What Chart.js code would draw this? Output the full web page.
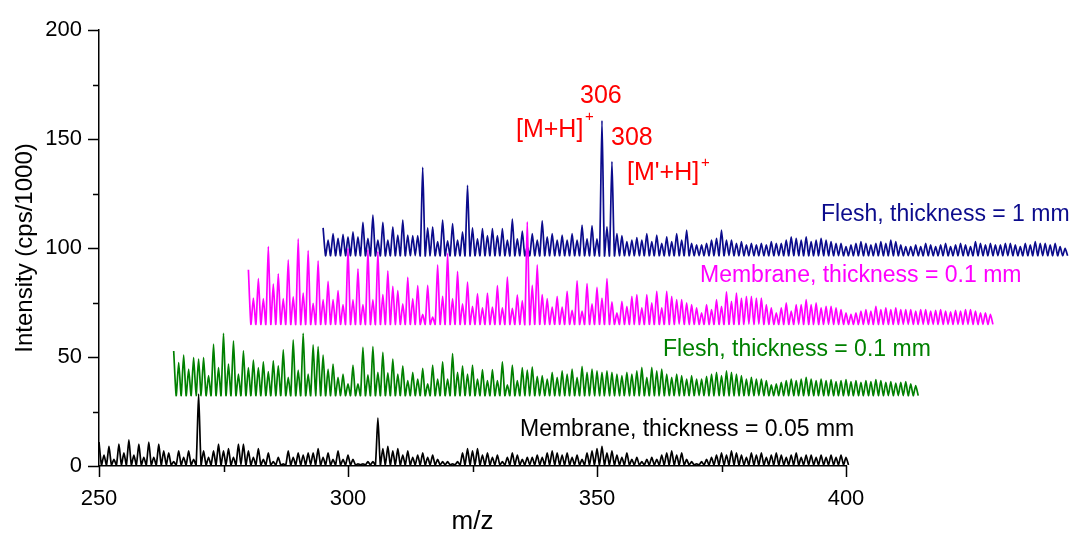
<!DOCTYPE html>
<html>
<head>
<meta charset="utf-8">
<script src="https://cdn.jsdelivr.net/npm/chart.js@4.4.1/dist/chart.umd.min.js"></script>
<style>
  html, body { margin: 0; padding: 0; background: #fff; }
  canvas { display: block; }
</style>
</head>
<body>
<canvas id="ms" width="1073" height="540"></canvas>
<script>
// Mass spectra, one trace per sample, offset in m/z and intensity like the original figure.
// Each array holds the peak height (cps/1000) at consecutive integer m/z from the start value.
const FONT = "'Liberation Sans', Arial, sans-serif";

const xTicks = [250, 300, 350, 400];
const yTicks = [0, 50, 100, 150, 200];

// Membrane, thickness = 0.05 mm (m/z 250..400)
const blackStart = 250;
const blackBase = 0.5;
const blackPeaks = [
  11, 5, 9, 3, 10, 6, 12, 5, 10, 4, 11, 4, 10, 7, 6, 2, 7, 4, 7, 3, 33,
  7, 4, 7, 10, 7, 8, 4, 10, 10, 7, 4, 8, 3, 6, 2, 4, 1, 7, 4, 6, 5, 6, 6, 8, 4, 6, 3, 7, 3, 5, 3, 1, 1, 2, 2,
  22,
  8, 9, 7, 8, 5, 7, 4, 5, 6, 4,
  5, 3, 2, 2, 1, 2, 6, 8, 7, 8,
  5, 6, 4, 5, 2, 4, 6, 5, 3, 4,
  4, 5, 4, 6, 7, 6, 5, 6, 4, 5,
  3, 6, 7, 8, 9, 6, 7, 5, 4, 6,
  3, 4, 2, 3, 4, 3, 5, 6, 7, 5,
  6, 3, 2, 1, 2, 3, 4, 5, 6, 5,
  7, 6, 5, 4, 6, 5, 6, 4, 5, 6,
  5, 4, 5, 6, 4, 5, 5, 4, 5, 4,
  5, 4, 5, 4
];

// Flesh, thickness = 0.1 mm (drawn from m/z 265)
const greenStart = 265;
const greenBase = 32.3;
const greenPeaks = [
  52.8, 47.5, 50.9, 44.5, 49.8, 49.1, 49.8, 41.5, 55.9, 45.2, 60.9, 46.8, 57.4, 42.2, 52.8, 45.2,
  48.6, 45.2, 47.8, 43.3, 48.3, 46, 53.3, 40.7, 57.9, 44, 60.9, 42.2, 55.6, 54.8, 50.9, 44.5,
  46.8, 40.7, 42.2, 37.7, 46.3, 37.7, 54.4, 41.8, 54.8, 43, 52.1, 42.7,
  49.1, 42.2, 46, 39.2, 43, 39.9, 44.8, 37.7, 46.3, 39.9, 47.8, 39.9, 51.6, 43, 46, 42.2,
  46.3, 39.9, 44.2, 39.2, 44.2, 39.2, 47.8, 37.2, 46.3, 39.2, 45.2, 44, 45.5, 41.2,
  41.5, 39.9, 43, 40.7, 43.7, 42.2, 44.5, 40.7, 45.7, 43, 44.5, 43.7, 43, 43.7, 43, 42.2,
  41.5, 43, 42.2, 43.7, 45.3, 40.7, 45.3, 43.7, 44.5, 42.2, 40.7, 42.2, 41.5, 39.9, 41.5, 39.9,
  39.9, 41.2, 42.2, 43, 41.5, 43.7, 43, 42.2, 41.5, 39.9, 40.7, 39.9, 39.9, 39.2, 37.2, 37.7,
  38.4, 39.2, 39.9, 39.2, 39.9, 40.7, 39.9, 39.2, 39.9, 39.2, 39.6, 38.7, 39.2, 39.6, 38.7, 39.2,
  38.4, 39.2, 38.7, 39.6, 39.2, 38.4, 38.7, 38.1, 38.4, 38.7, 37.7, 36.9
];

// Membrane, thickness = 0.1 mm (drawn from m/z 280)
const magentaStart = 280;
const magentaBase = 65;
const magentaPeaks = [
  90.1, 77.1, 86, 76.8, 100.7, 83.5, 88.2, 76.8, 94.6, 77.6, 104.2, 79.4, 98.9, 74.6, 94.2, 76.4,
  84.7, 76.4, 80.5, 74.1, 99.9, 76.4, 90.5, 74.1, 99.2, 76.4, 98.4, 78.7, 89.6, 82.5, 80.5, 74.4,
  86.6, 76.8, 82.8, 69.6, 82.9, 68.3, 92.3, 77.9, 97.6, 76.8, 89.3, 74.4, 84.4, 73.3, 79.1, 72.6,
  79.4, 72.9, 82.8, 72.6, 86.7, 72.3, 78.5, 75.9, 112.1, 82.9, 92.3, 78.7, 76.8, 72.9, 77.9, 72.9,
  80.2, 71.4, 85, 71.1, 83.7, 74.4, 82, 77.1, 86, 75.3, 70.3,
  75.6, 73.3, 77.9, 78.7, 72.6, 78.7, 74.9, 80.2, 72.6, 80.2, 77.9, 76.4, 76.4, 74.9, 74.1, 72.6,
  70.3, 74.1, 71.8, 76.4, 73.3, 79.9, 75.6, 79.4, 77.1, 77.9, 77.9, 77.1, 77.1, 74.1, 72.6, 70.3,
  72.6, 74.9, 71.1, 74.1, 74.1, 76.4, 74.1, 74.9, 72.6, 73.3, 73.3, 72.6, 71.8, 70.3, 69.6, 70.3,
  71.1, 71.8, 71.1, 73.3, 71.8, 72.6, 71.8, 72.6, 71.8, 71.8, 71.8, 71.1, 71.8, 71.8, 71.1, 71.4,
  71.8, 71.1, 70.8, 71.4, 71.1, 71.8, 71.8, 71.1, 70.3, 70.3, 69.6
];

// Flesh, thickness = 1 mm (drawn from m/z 295)
const blueStart = 295;
const blueBase = 96.5;
const bluePeaks = [
  109.3, 103.7, 106.7, 104.5, 106.3, 105.2, 107.5, 105.2, 111.8, 104.5, 115.1, 103.7, 111.8, 103.7, 109.8, 106,
  112.8, 106, 105.7, 105.7, 137.1, 109.3, 109.8, 103, 112.8, 103.3, 111.3, 103.7, 107.5, 128.8, 109.3, 104.2,
  109, 105.7, 109, 105.7, 109, 103.7, 113.3, 104.2, 107.8, 100.7, 106.7, 103.7, 112.5, 105.2, 106.7, 103.7,
  106, 103.7, 106.7, 103.7, 110.6, 104.2, 110.3, 104.2, 158.5, 109.8, 139.7, 106.7, 105.7, 103, 103.7, 104.8,
  103.7, 106.7, 103, 106, 102.2, 105.2, 103, 106.7, 103.7, 108.3, 102.2, 101.5, 101.5, 102.2, 103.7, 104.5,
  108.3, 103.7, 103.7, 102.2, 103, 101.5, 102.2, 101.5, 102.2, 101.5, 103, 102.2, 102.2, 103.7, 105.2, 104.5,
  103.7, 105.2, 103, 103.7, 104.5, 103.7, 103, 102.2, 102.2, 100.7, 101.5, 102.2, 103, 102.2, 101.5, 102.2,
  103, 102.2, 103.7, 103, 101.5, 100.7, 100.7, 101.5, 100.7, 102.2, 101.5, 100.7, 101.5, 102.2, 100.7, 101.5,
  102.2, 101.5, 100.7, 103, 102.2, 101.5, 102.2, 101.5, 101.5, 102.2, 102.2, 101.5, 100.7, 102.2, 101.5, 103,
  102.2, 102.2, 101.5, 102.2, 100.7, 99.9
];

const traceLabels = ['Flesh, thickness = 1 mm', 'Membrane, thickness = 0.1 mm', 'Flesh, thickness = 0.1 mm', 'Membrane, thickness = 0.05 mm'];
const colors = ['#0b0b8c', '#ff00ff', '#008000', '#000000'];

// peak at each integer m/z, back down to the trace baseline half a unit later
function trace(start, peaks, base) {
  const pts = [];
  peaks.forEach((p, i) => {
    pts.push({ x: start + i, y: p });
    pts.push({ x: start + i + 0.5, y: base });
  });
  return pts;
}

function ds(data, color) {
  return {
    data,
    borderColor: color,
    borderWidth: 1.7,
    pointRadius: 0,
    tension: 0.2,
    fill: false,
    clip: false,
  };
}

const decor = {
  id: 'decor',
  afterDraw(chart) {
    const { ctx, chartArea: a } = chart;
    const xs = chart.scales.x, ys = chart.scales.y;
    ctx.save();
    ctx.strokeStyle = '#000';
    ctx.lineWidth = 1.5;
    ctx.beginPath();
    for (let v = 250; v <= 400; v += 25) {
      const px = Math.round(xs.getPixelForValue(v)) + 0.5;
      ctx.moveTo(px, a.bottom);
      ctx.lineTo(px, a.bottom + (v % 50 === 0 ? 11 : 6));
    }
    for (let v = 0; v <= 200; v += 25) {
      const py = Math.round(ys.getPixelForValue(v)) + 0.5;
      ctx.moveTo(a.left, py);
      ctx.lineTo(a.left - (v % 50 === 0 ? 11 : 6), py);
    }
    ctx.stroke();

    ctx.fillStyle = '#000';
    ctx.textAlign = 'center';
    ctx.textBaseline = 'middle';
    ctx.font = '26px ' + FONT;
    ctx.fillText('m/z', (a.left + a.right) / 2, 522);
    ctx.font = '24px ' + FONT;
    ctx.save();
    ctx.translate(25, 248);
    ctx.rotate(-Math.PI / 2);
    ctx.fillText('Intensity (cps/1000)', 0, 0);
    ctx.restore();

    ctx.textAlign = 'left';
    ctx.textBaseline = 'alphabetic';
    ctx.font = '23px ' + FONT;
    const spots = [[821, 221], [700, 282], [663, 356], [520, 436]];
    traceLabels.forEach((t, i) => {
      ctx.fillStyle = colors[i];
      ctx.fillText(t, spots[i][0], spots[i][1]);
    });

    ctx.fillStyle = '#ff0000';
    ctx.font = '25px ' + FONT;
    ctx.fillText('306', 580, 103);
    ctx.fillText('[M+H]', 516, 137);
    ctx.fillText('308', 611, 145);
    ctx.fillText("[M'+H]", 627, 180);
    ctx.font = '15px ' + FONT;
    ctx.fillText('+', 585, 121);
    ctx.fillText('+', 701, 167);
    ctx.restore();
  }
};

new Chart(document.getElementById('ms'), {
  type: 'line',
  data: {
    datasets: [
      ds(trace(magentaStart, magentaPeaks, magentaBase), colors[1]),
      ds(trace(blueStart, bluePeaks, blueBase), colors[0]),
      ds(trace(greenStart, greenPeaks, greenBase), colors[2]),
      ds(trace(blackStart, blackPeaks, blackBase), colors[3]),
    ]
  },
  options: {
    responsive: false,
    animation: false,
    layout: { padding: { top: 26, right: 227, left: 0, bottom: 0 } },
    plugins: { legend: { display: false }, tooltip: { enabled: false } },
    scales: {
      x: {
        type: 'linear',
        bounds: 'data',
        offset: false,
        // set limits here so points past 400 are still drawn outside the axis
        afterDataLimits: s => { s.min = xTicks[0]; s.max = xTicks[xTicks.length - 1]; },
        afterBuildTicks: s => { s.ticks = xTicks.map(v => ({ value: v })); },
        afterFit: s => { s.height = 74; },
        grid: { display: false, drawTicks: false },
        border: { display: true, color: '#000', width: 1.5 },
        ticks: { color: '#000', font: { size: 22, family: FONT }, padding: 20, maxRotation: 0, autoSkip: false },
      },
      y: {
        bounds: 'data',
        afterDataLimits: s => { s.min = yTicks[0]; s.max = yTicks[yTicks.length - 1]; },
        afterBuildTicks: s => { s.ticks = yTicks.map(v => ({ value: v })); },
        afterFit: s => { s.width = 99; },
        grid: { display: false, drawTicks: false },
        border: { display: true, color: '#000', width: 1.5 },
        ticks: { color: '#000', font: { size: 22, family: FONT }, padding: 17, autoSkip: false },
      }
    }
  },
  plugins: [decor]
});
</script>
</body>
</html>
